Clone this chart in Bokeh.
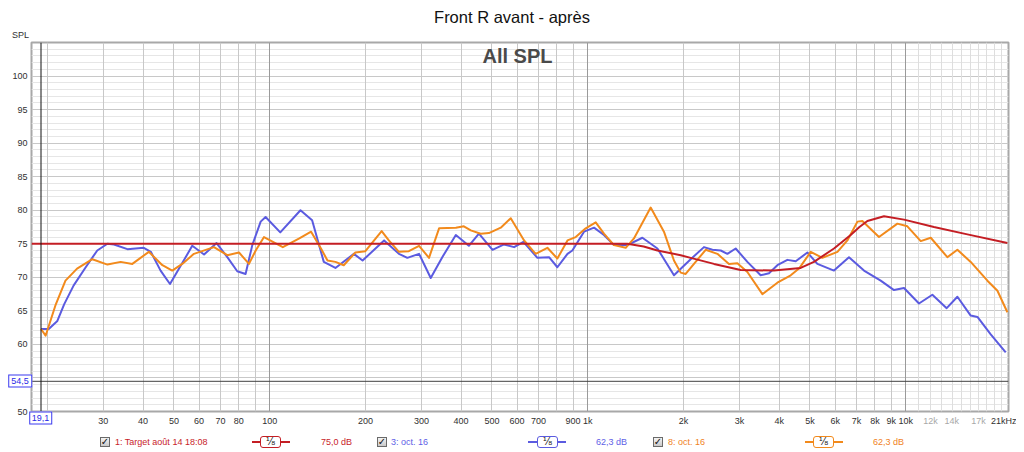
import math
from bokeh.plotting import figure
from bokeh.layouts import column
from bokeh.models import Range1d, FixedTicker, Grid, Span, Label, Div, CustomJSTickFormatter
from bokeh.embed import file_html
from bokeh.resources import INLINE

# ---------------- data ----------------
blue_freq = [19.1, 20.2, 21.5, 22.6, 24.2, 26.4, 28.7, 30.9, 32.4, 35.7, 40.2, 42.3, 45.4, 48.6, 51.9,
             57.1, 62.2, 68.1, 73.6, 79.1, 84.0, 88.2, 93.7, 97.1, 108, 125, 136, 148, 161, 184, 196,
             229, 255, 271, 295, 321, 349, 385, 423, 455, 502, 546, 587, 628, 695, 756, 803, 864, 895,
             974, 1047, 1125, 1210, 1333, 1486, 1657, 1868, 2108, 2321, 2467, 2620, 2750, 2920, 3178,
             3499, 3717, 3949, 4246, 4510, 4909, 5276, 5950, 6632, 7393, 8344, 9189, 9879, 11010,
             12130, 13455, 14540, 16010, 16810, 18510, 20630]
blue_db = [62.3, 62.3, 63.5, 66.0, 68.8, 71.5, 74.0, 75.0, 74.9, 74.2, 74.4, 73.8, 71.0, 69.0, 71.3,
           74.7, 73.4, 75.1, 73.0, 70.9, 70.5, 74.8, 78.3, 79.0, 76.7, 80.0, 78.5, 72.3, 71.4, 73.5, 72.5,
           75.5, 73.5, 72.9, 73.5, 69.9, 73.0, 76.3, 74.7, 76.5, 74.1, 74.9, 74.5, 75.3, 72.9, 73.0, 71.5,
           73.5, 74.0, 76.8, 77.4, 76.3, 74.8, 74.8, 75.9, 74.3, 70.3, 72.7, 74.5, 74.1, 74.0, 73.5, 74.3,
           72.3, 70.3, 70.6, 71.8, 72.6, 72.4, 73.7, 72.0, 71.0, 73.0, 71.0, 69.5, 68.1, 68.4, 66.1,
           67.4, 65.4, 67.1, 64.3, 64.1, 61.5, 58.8]

orange_freq = [19.1, 19.75, 21.2, 22.8, 24.8, 27.7, 30.9, 34.0, 37.0, 41.7, 46.0, 49.4, 53.1, 57.8,
               66.8, 73.6, 80.1, 86.1, 90.4, 96.0, 110, 124, 135, 145, 152, 161, 171, 186, 200, 225,
               237, 255, 274, 295, 317, 341, 385, 408, 429, 461, 489, 533, 573, 631, 686, 747, 803,
               864, 917, 986, 1060, 1125, 1210, 1317, 1398, 1578, 1737, 1868, 1961, 2033, 2159, 2350,
               2558, 2782, 2956, 3178, 3543, 3949, 4350, 4619, 5028, 5470, 6100, 6556, 7050, 7307,
               8241, 9417, 10120, 11150, 11990, 13520, 14540, 16010, 18070, 19430, 20880]
orange_db = [62.3, 61.3, 65.8, 69.5, 71.3, 72.7, 71.9, 72.3, 72.0, 73.8, 71.8, 71.0, 72.0, 73.5,
             74.5, 73.3, 73.7, 72.0, 74.0, 76.0, 74.5, 75.8, 76.8, 74.3, 72.5, 72.3, 71.8, 73.7, 73.9, 76.9,
             75.5, 73.8, 73.9, 74.7, 72.9, 77.3, 77.4, 77.6, 77.0, 76.5, 76.6, 77.4, 78.8, 75.5, 73.5, 74.4, 72.8,
             75.5, 76.0, 77.3, 78.2, 76.5, 74.8, 74.4, 75.8, 80.4, 76.8, 72.5, 70.7, 70.5, 72.0, 74.1,
             73.5, 72.0, 72.1, 70.8, 67.5, 69.2, 70.3, 71.3, 73.8, 72.9, 73.8, 75.5, 78.3, 78.4,
             76.0, 78.0, 77.6, 75.4, 75.9, 73.0, 74.1, 72.3, 69.5, 68.0, 64.8]

target_freq = [17.83, 1333, 1500, 1657, 1961, 2108, 2496, 3027, 3853, 4674, 5146, 5950, 6714, 7154,
               7578, 8546, 9879, 12270, 15630, 20880]
target_db = [75.0, 75.0, 74.6, 74.0, 73.3, 72.9, 72.0, 71.1, 71.0, 71.4, 72.3, 74.3, 76.3, 77.5,
             78.4, 79.1, 78.6, 77.5, 76.4, 75.1]

x_ticks = [30, 40, 50, 60, 70, 80, 100, 200, 300, 400, 500, 600, 700, 900, 1000, 2000, 3000, 4000,
           5000, 6000, 7000, 8000, 9000, 10000, 21000]
x_labels = ["30", "40", "50", "60", "70", "80", "100", "200", "300", "400", "500", "600", "700", "900",
            "1k", "2k", "3k", "4k", "5k", "6k", "7k", "8k", "9k", "10k", "21kHz"]
x_grey_ticks = [12000, 14000, 17000]
x_grey_labels = ["12k", "14k", "17k"]
y_ticks = [50, 60, 65, 70, 75, 80, 85, 90, 95, 100]

cursor_freq = 19.1
cursor_level = 54.5
cursor_freq_text = "19,1"
cursor_level_text = "54,5"

title_text = "Front R avant - après"
legend_names = ["1: Target août 14 18:08", "3: oct. 16", "8: oct. 16"]
legend_values = ["75,0 dB", "62,3 dB", "62,3 dB"]
legend_colors = ["#c8232a", "#6060e6", "#f0821e"]
line_colors = ["#c41e24", "#5b5be0", "#f28a1c"]

# ---------------- layout (page pixels) ----------------
W = 1016
TOP_H = 38            # title strip
FL, FR, FT, FB = 31, 1008, 42, 411   # frame on page
PLOT_H = 392
LEG_TOP = TOP_H + PLOT_H
LEG_H = 20
X0, X1 = 17.83, 21050
Y0, Y1 = 50, 105
FONT = "Liberation Sans"
CSS_FONT = "'Liberation Sans', Arial, sans-serif"


def page_x(f):
    return FL + (FR - FL) * (math.log10(f) - math.log10(X0)) / (math.log10(X1) - math.log10(X0))


def page_y(v):
    return FB - (FB - FT) * (v - Y0) / (Y1 - Y0)


p = figure(width=W, height=PLOT_H, x_axis_type="log", x_range=Range1d(X0, X1), y_range=Range1d(Y0, Y1),
           output_backend="svg", toolbar_location=None,
           min_border_left=FL, min_border_right=W - FR, min_border_top=FT - TOP_H,
           min_border_bottom=TOP_H + PLOT_H - FB)
p.margin = 0
p.background_fill_color = "white"
p.border_fill_color = "white"
p.outline_line_color = "#a8a8a8"
p.outline_line_width = 2
p.xgrid.visible = False
p.ygrid.visible = False


def add_grid(dim, ticks, color):
    p.add_layout(Grid(dimension=dim, ticker=FixedTicker(ticks=ticks), grid_line_color=color, grid_line_width=1))


add_grid(1, [v for v in range(51, 106) if v % 5], "#e6e6e6")
add_grid(1, list(range(55, 106, 5)), "#c8c8c8")
add_grid(0, [k * 1000 for k in range(11, 21)], "#dedede")
add_grid(0, [m * 10 ** e for e in (1, 2, 3) for m in range(2, 10)], "#c8c8c8")
add_grid(0, [100, 1000, 10000], "#9a9a9a")

xa = p.xaxis[0]
xa.ticker = FixedTicker(ticks=x_ticks, minor_ticks=[])
xa.formatter = CustomJSTickFormatter(args=dict(xt=x_ticks, xl=x_labels),
                                     code="const i = xt.indexOf(tick); return i >= 0 ? xl[i] : '';")
ya = p.yaxis[0]
ya.ticker = FixedTicker(ticks=y_ticks, minor_ticks=[])
for ax in (xa, ya):
    ax.axis_line_color = None
    ax.major_tick_line_color = None
    ax.minor_tick_line_color = None
    ax.major_tick_out = 0
    ax.major_tick_in = 0
    ax.minor_tick_out = 0
    ax.minor_tick_in = 0
    ax.major_label_text_font = FONT
    ax.major_label_text_font_size = "9px"
    ax.major_label_text_color = "#303030"
xa.major_label_standoff = 4
ya.major_label_standoff = 4

# cursor lines
p.add_layout(Span(location=cursor_level, dimension="width", line_color="#404040", line_width=1))
p.add_layout(Span(location=cursor_freq, dimension="height", line_color="#101010", line_width=1))

# curves
p.line(blue_freq, blue_db, line_color=line_colors[1], line_width=2, line_join="round")
p.line(orange_freq, orange_db, line_color=line_colors[2], line_width=2, line_join="round")
p.line(target_freq, target_db, line_color=line_colors[0], line_width=2, line_join="round")

# in-frame caption (screen units are relative to the frame, y from its bottom)
p.add_layout(Label(x=517 - FL, y=FB - 55, x_units="screen", y_units="screen", text="All SPL",
                   text_font=FONT, text_font_size="20px", text_font_style="bold", text_color="#4a4a4a",
                   text_align="center", text_baseline="middle"))


# ---------------- HTML strips ----------------
def span(text, x, cy, size, color, align="left", weight="normal", extra=""):
    tx = {"left": "0", "center": "-50%", "right": "-100%"}[align]
    return (f'<span style="position:absolute;left:{x:.1f}px;top:{cy:.1f}px;transform:translate({tx},-50%);'
            f'font-size:{size}px;line-height:1;color:{color};font-weight:{weight};white-space:nowrap;{extra}">'
            f'{text}</span>')


def box(x, y, w, h, style):
    return (f'<div style="position:absolute;left:{x:.1f}px;top:{y:.1f}px;width:{w}px;height:{h}px;'
            f'box-sizing:border-box;{style}"></div>')


top_html = (f'<div style="position:relative;width:{W}px;height:{TOP_H}px;font-family:{CSS_FONT};">'
            + span(title_text, 512, 17, 16.5, "#111111", "center")
            + span("SPL", 12, 35, 9, "#303030", "left")
            + '</div>')

ly = 441.5 - LEG_TOP
parts = []
# overlays reaching up into the axis area of the plot
cursor_box = "border:1px solid #3a3af0;background:#ffffff;padding:1px 2px 1px 2px;"
parts.append(span(cursor_freq_text, page_x(cursor_freq), 418 - LEG_TOP, 9, "#2a2ae6", "center",
                  extra=cursor_box))
parts.append(span(cursor_level_text, 20, page_y(cursor_level) - LEG_TOP, 9, "#2a2ae6", "center",
                  extra=cursor_box))
for t, lab in zip(x_grey_ticks, x_grey_labels):
    parts.append(span(lab, page_x(t), 420.5 - LEG_TOP, 9, "#a8a8a8", "center"))

check_x = [100, 377, 653]
name_x = [115, 391, 668]
sym_x = [(252, 290, 260, 281), (528, 566, 537, 558), (805, 843, 813, 834)]
val_x = [321, 596, 873]
for i in range(3):
    c = legend_colors[i]
    cx = check_x[i]
    parts.append(box(cx, ly - 5, 10, 10, "border:1px solid #6a6a6a;background:linear-gradient(#f4f4f4,#c8c8c8);"))
    parts.append(span("✓", cx + 5, ly, 10, "#111111", "center", "bold", "font-family:'DejaVu Sans';"))
    parts.append(span(legend_names[i], name_x[i], ly, 9, c))
    l0, l1, b0, b1 = sym_x[i]
    parts.append(box(l0, ly - 1, l1 - l0, 2, f"background:{line_colors[i]};"))
    parts.append(box(b0, ly - 6, b1 - b0, 12, f"border:1.5px solid {line_colors[i]};border-radius:3px;background:#fff;"))
    parts.append(span("¹⁄₈", (b0 + b1) / 2, ly, 10, "#202020", "center", extra="font-family:'DejaVu Sans';"))
    parts.append(span(legend_values[i], val_x[i], ly, 9, c))

leg_html = (f'<div style="position:relative;width:{W}px;height:{LEG_H}px;font-family:{CSS_FONT};">'
            + "".join(parts) + '</div>')

top_div = Div(text=top_html, width=W, height=TOP_H, margin=0, styles={"overflow": "visible"})
leg_div = Div(text=leg_html, width=W, height=LEG_H, margin=0, styles={"overflow": "visible"})

layout = column(top_div, p, leg_div, spacing=0)
open("out.html", "w").write(file_html(layout, INLINE))
